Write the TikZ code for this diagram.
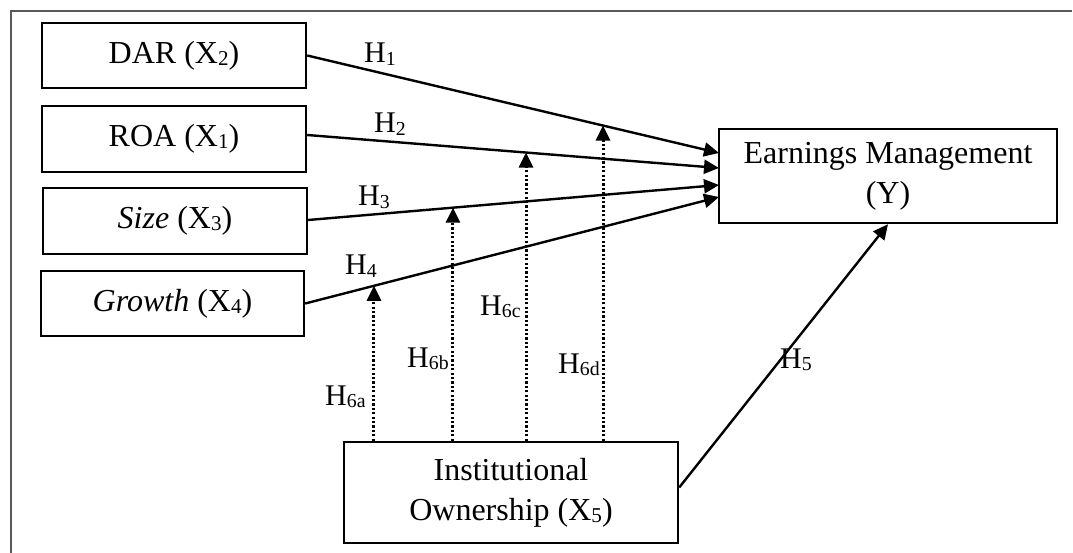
\documentclass[tikz,border=0pt]{standalone}
\usepackage{fontspec}
\setmainfont{Liberation Serif}
\usetikzlibrary{arrows.meta}
\makeatletter
\newcommand\sbs[1]{\raisebox{-0.07em}{\fontsize{\strip@pt\dimexpr\f@size pt*66/100\relax}{1pt}\selectfont #1}}
\makeatother
\begin{document}
\begin{tikzpicture}[x=1pt,y=-1pt,
  box/.style={draw,line width=2.4pt,inner sep=0pt,align=center,font=\fontsize{32}{40}\selectfont},
  lbl/.style={inner sep=0pt,anchor=base west,font=\fontsize{30}{32}\selectfont},
  solidarr/.style={line width=2.4pt,-{Triangle[length=15pt,width=14pt]}},
  dotarr/.style={line width=3pt,dash pattern=on 2.2pt off 2.2pt,-{Triangle[length=15pt,width=14pt]}},
  framecol/.style={draw=black!65,line width=2pt}]
\useasboundingbox (0,0) rectangle (1073,553);
\draw[framecol] (1072,11) -- (11,11) -- (11,553);

\node[box,minimum width=264pt,minimum height=65pt] (dar) at (174,55.5) {DAR (X\sbs{2})};
\node[box,minimum width=264pt,minimum height=66pt] (roa) at (174,139) {ROA (X\sbs{1})};
\node[box,minimum width=264pt,minimum height=66pt] (nsz) at (175,221) {\textit{Size} (X\sbs{3})};
\node[box,minimum width=263pt,minimum height=65pt] (gro) at (172.5,303.5) {\textit{Growth} (X\sbs{4})};
\node[box,minimum width=338pt,minimum height=94pt] (em) at (888,176) {Earnings Management\\(Y)};
\node[box,minimum width=334pt,minimum height=101pt] (io) at (511,492.5) {Institutional\\Ownership (X\sbs{5})};

\coordinate (e1) at (719,153);
\coordinate (e2) at (719,168);
\coordinate (e3) at (719,185);
\coordinate (e4) at (719,197);

\draw[solidarr] (dar.east) -- (e1);
\draw[solidarr] ([yshift=4pt]roa.east) -- (e2);
\draw[solidarr] ([yshift=1pt]nsz.east) -- (e3);
\draw[solidarr] (gro.east) -- (e4);
\draw[solidarr] ([yshift=5pt]io.east) -- (em.south);

\coordinate (p6a) at (intersection of gro.east--e4 and 374,0--374,600);
\coordinate (p6b) at (intersection of {[yshift=1pt]nsz.east}--e3 and 453,0--453,600);
\coordinate (p6c) at (intersection of {[yshift=4pt]roa.east}--e2 and 526,0--526,600);
\coordinate (p6d) at (intersection of dar.east--e1 and 603,0--603,600);

\draw[dotarr] (io.north -| p6a) -- (p6a);
\draw[dotarr] (io.north -| p6b) -- (p6b);
\draw[dotarr] (io.north -| p6c) -- (p6c);
\draw[dotarr] (io.north -| p6d) -- (p6d);

\node[lbl] (h1) at (364,63) {H\sbs{1}};
\node[lbl] (h2) at (374,133) {H\sbs{2}};
\node[lbl] (h3) at (358,206) {H\sbs{3}};
\node[lbl] (h4) at (345,275) {H\sbs{4}};
\node[lbl] (h5) at (780,368) {H\sbs{5}};
\node[lbl] (h6a) at (325,405) {H\sbs{6a}};
\node[lbl] (h6b) at (407,367) {H\sbs{6b}};
\node[lbl] (h6c) at (480,315) {H\sbs{6c}};
\node[lbl] (h6d) at (558,373) {H\sbs{6d}};
\end{tikzpicture}
\end{document}
